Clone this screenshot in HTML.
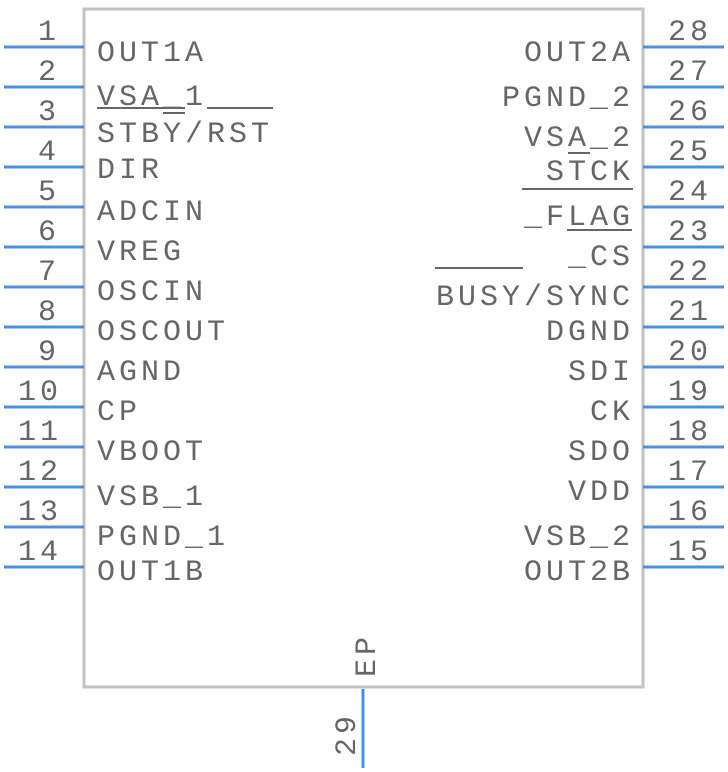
<!DOCTYPE html>
<html><head><meta charset="utf-8"><style>
html,body{margin:0;padding:0;background:#fff;}
svg{display:block;}
text{font-family:"Liberation Mono",monospace;font-size:30px;fill:#666;letter-spacing:4px;}
.r{text-anchor:end;}
</style></head><body>
<svg width="728" height="772" viewBox="0 0 728 772" xmlns="http://www.w3.org/2000/svg">
<rect x="84" y="9" width="559" height="678" fill="none" stroke="#c2c2c2" stroke-width="3"/>
<g stroke="#4a90e2" stroke-width="3">
<line x1="4" y1="47" x2="84" y2="47"/><line x1="4" y1="87" x2="84" y2="87"/>
<line x1="4" y1="127" x2="84" y2="127"/><line x1="4" y1="167" x2="84" y2="167"/>
<line x1="4" y1="207" x2="84" y2="207"/><line x1="4" y1="247" x2="84" y2="247"/>
<line x1="4" y1="287" x2="84" y2="287"/><line x1="4" y1="327" x2="84" y2="327"/>
<line x1="4" y1="367" x2="84" y2="367"/><line x1="4" y1="407" x2="84" y2="407"/>
<line x1="4" y1="447" x2="84" y2="447"/><line x1="4" y1="487" x2="84" y2="487"/>
<line x1="4" y1="527" x2="84" y2="527"/><line x1="4" y1="567" x2="84" y2="567"/>
<line x1="643" y1="47" x2="724" y2="47"/><line x1="643" y1="87" x2="724" y2="87"/>
<line x1="643" y1="127" x2="724" y2="127"/><line x1="643" y1="167" x2="724" y2="167"/>
<line x1="643" y1="207" x2="724" y2="207"/><line x1="643" y1="247" x2="724" y2="247"/>
<line x1="643" y1="287" x2="724" y2="287"/><line x1="643" y1="327" x2="724" y2="327"/>
<line x1="643" y1="367" x2="724" y2="367"/><line x1="643" y1="407" x2="724" y2="407"/>
<line x1="643" y1="447" x2="724" y2="447"/><line x1="643" y1="487" x2="724" y2="487"/>
<line x1="643" y1="527" x2="724" y2="527"/><line x1="643" y1="567" x2="724" y2="567"/>
<line x1="363" y1="689" x2="363" y2="768"/>
</g>
<g stroke="#666" stroke-width="2">
<line x1="97" y1="108" x2="185" y2="108"/><line x1="207" y1="108" x2="273" y2="108"/>
<line x1="163" y1="113" x2="185" y2="113"/>
<line x1="522" y1="189" x2="633" y2="189"/><line x1="568" y1="153" x2="590" y2="153"/>
<line x1="567" y1="230" x2="632" y2="230"/>
<line x1="435" y1="268" x2="523" y2="268"/>
</g>
<g class="r">
<text x="60" y="40" class="r">1</text><text x="60" y="80" class="r">2</text>
<text x="60" y="120" class="r">3</text><text x="60" y="160" class="r">4</text>
<text x="60" y="200" class="r">5</text><text x="60" y="240" class="r">6</text>
<text x="60" y="280" class="r">7</text><text x="60" y="320" class="r">8</text>
<text x="60" y="360" class="r">9</text><text x="62" y="400" class="r">10</text>
<text x="62" y="440" class="r">11</text><text x="62" y="480" class="r">12</text>
<text x="62" y="520" class="r">13</text><text x="62" y="560" class="r">14</text>
</g>
<text x="668" y="40">28</text><text x="668" y="80">27</text>
<text x="668" y="120">26</text><text x="668" y="160">25</text>
<text x="668" y="200">24</text><text x="668" y="240">23</text>
<text x="668" y="280">22</text><text x="668" y="320">21</text>
<text x="668" y="360">20</text><text x="668" y="400">19</text>
<text x="668" y="440">18</text><text x="668" y="480">17</text>
<text x="668" y="520">16</text><text x="668" y="560">15</text>
<text x="97" y="61">OUT1A</text>
<text x="97" y="105">VSA_1</text>
<text x="97" y="142">STBY/RST</text>
<text x="97" y="178">DIR</text>
<text x="97" y="220">ADCIN</text>
<text x="97" y="260">VREG</text>
<text x="97" y="300">OSCIN</text>
<text x="97" y="340">OSCOUT</text>
<text x="97" y="380">AGND</text>
<text x="97" y="420">CP</text>
<text x="97" y="460">VBOOT</text>
<text x="97" y="505">VSB_1</text>
<text x="97" y="545">PGND_1</text>
<text x="97" y="580">OUT1B</text>
<text x="634" y="61" class="r">OUT2A</text>
<text x="634" y="106" class="r">PGND_2</text>
<text x="634" y="146" class="r">VSA_2</text>
<text x="634" y="180" class="r">STCK</text>
<text x="634" y="225" class="r">_FLAG</text>
<text x="634" y="265" class="r">_CS</text>
<text x="634" y="305" class="r">BUSY/SYNC</text>
<text x="634" y="340" class="r">DGND</text>
<text x="634" y="380" class="r">SDI</text>
<text x="634" y="420" class="r">CK</text>
<text x="634" y="460" class="r">SDO</text>
<text x="634" y="500" class="r">VDD</text>
<text x="634" y="545" class="r">VSB_2</text>
<text x="634" y="580" class="r">OUT2B</text>
<text transform="translate(375,677) rotate(-90)">EP</text>
<text transform="translate(355,756) rotate(-90)">29</text>
</svg>
</body></html>
